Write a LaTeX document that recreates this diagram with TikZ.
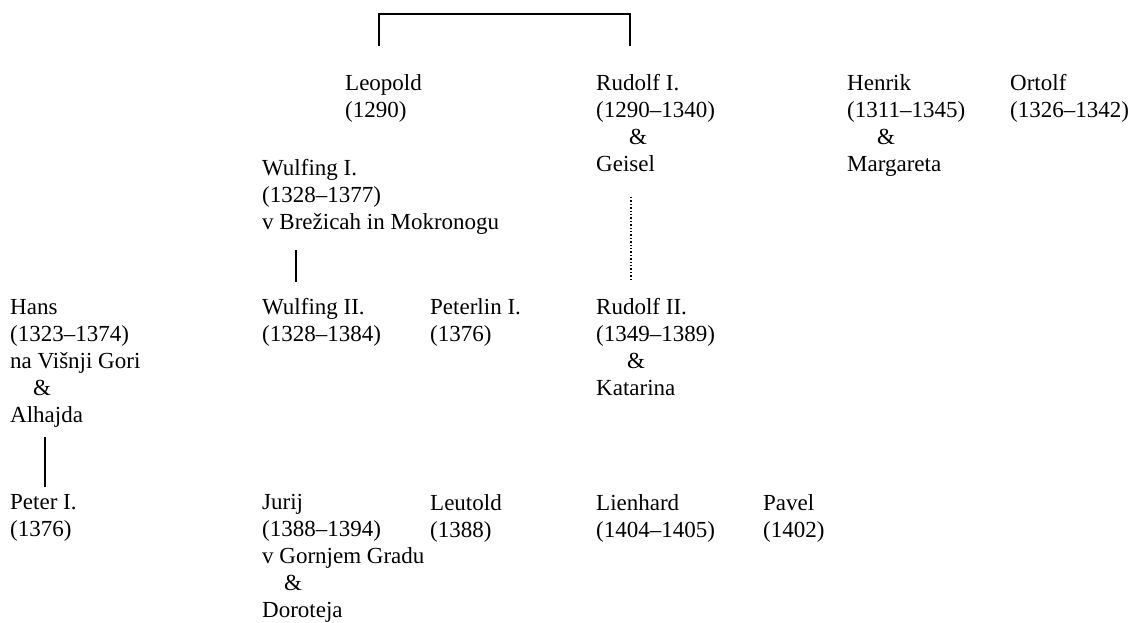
\documentclass[tikz,border=0pt]{standalone}
\usepackage{fontspec}
\setmainfont{Liberation Serif}
\begin{document}
\begin{tikzpicture}[x=1pt,y=-1pt,
  person/.style={anchor=north west,inner sep=0pt,align=left,
    font=\fontsize{23}{27}\selectfont},
  link/.style={draw=black,line width=1.4pt},
  dotlink/.style={draw=black,line width=1.4pt,dotted}]
\useasboundingbox (0,0) rectangle (1135,623);
\newcommand{\amp}[1]{\hspace*{#1pt}\&}
% top row
\node[person] (leo) at (345,74.5) {Leopold\\(1290)};
\node[person] (rud1) at (596,74.5) {Rudolf I.\\(1290--1340)\\\amp{33}\\Geisel};
\node[person] (hen) at (847,74.5) {Henrik\\(1311--1345)\\\amp{30}\\Margareta};
\node[person] (ort) at (1010,74.5) {Ortolf\\(1326--1342)};
% second row
\node[person] (wul1) at (262,159.5) {Wulfing I.\\(1328--1377)\\v Brežicah in Mokronogu};
% third row
\node[person] (hans) at (10,299.5) {Hans\\(1323--1374)\\na Višnji Gori\\\amp{23}\\Alhajda};
\node[person] (wul2) at (262,298.5) {Wulfing II.\\(1328--1384)};
\node[person] (pet1) at (430,298.5) {Peterlin I.\\(1376)};
\node[person] (rud2) at (596,298.5) {Rudolf II.\\(1349--1389)\\\amp{31}\\Katarina};
% fourth row
\node[person] (peter) at (10,494.5) {Peter I.\\(1376)};
\node[person] (jurij) at (262,494.5) {Jurij\\(1388--1394)\\v Gornjem Gradu\\\amp{22}\\Doroteja};
\node[person] (leut) at (430,494.5) {Leutold\\(1388)};
\node[person] (lien) at (596,494.5) {Lienhard\\(1404--1405)};
\node[person] (pavel) at (763,494.5) {Pavel\\(1402)};
% connector ends
\coordinate (bl) at (379,46);
\coordinate (br) at (630,46);
\coordinate (w1) at (296,250);
\coordinate (w2) at (296,282);
\coordinate (r1) at (631,197);
\coordinate (r2) at (631,281);
\coordinate (h1) at (45,437);
\coordinate (h2) at (45,487);
\draw[link] (bl) -- (bl |- 0,14) -- (br |- 0,14) -- (br);
\draw[link] (w1) -- (w2);
\draw[dotlink] (r1) -- (r2);
\draw[link] (h1) -- (h2);
\end{tikzpicture}
\end{document}
